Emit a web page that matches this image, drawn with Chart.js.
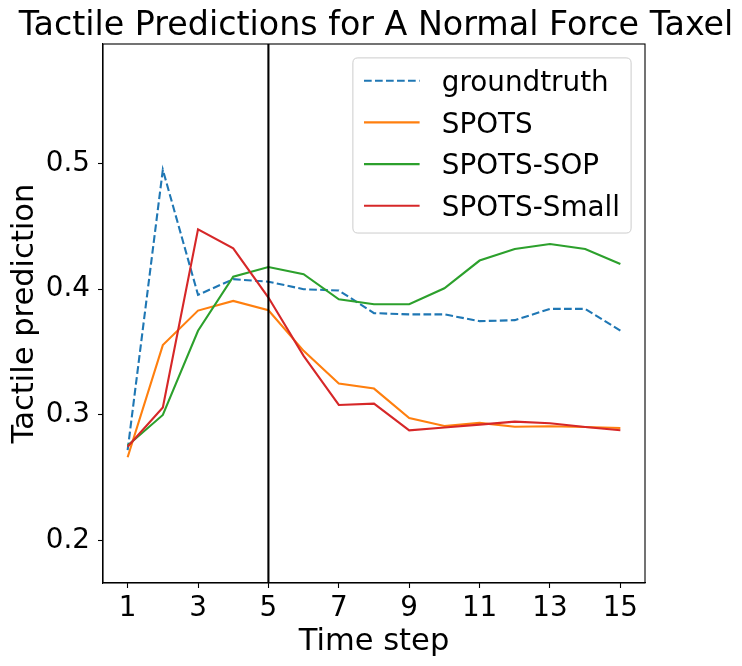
<!DOCTYPE html>
<html><head><meta charset="utf-8">
<script src="https://cdn.jsdelivr.net/npm/chart.js@4.4.0/dist/chart.umd.min.js"></script>
<style>html,body{margin:0;padding:0;background:#fff;} #wrap{width:742px;height:666px;}</style>
</head><body><div id="wrap"><canvas id="c" width="742" height="666"></canvas></div>
<script>
const timeSteps = [1, 2, 3, 4, 5, 6, 7, 8, 9, 10, 11, 12, 13, 14, 15];
const xTickValues = [1, 3, 5, 7, 9, 11, 13, 15];
const yTickValues = [0.2, 0.3, 0.4, 0.5];
const groundtruth = [0.272, 0.495, 0.3955, 0.408, 0.406, 0.400, 0.399, 0.381, 0.380, 0.380, 0.3746, 0.3754, 0.3844, 0.3844, 0.367];
const spots = [0.2664, 0.3556, 0.383, 0.3907, 0.3833, 0.351, 0.325, 0.321, 0.2976, 0.2913, 0.2937, 0.2907, 0.291, 0.2905, 0.2897];
const spotsSop = [0.2757, 0.300, 0.367, 0.410, 0.4177, 0.412, 0.392, 0.388, 0.388, 0.4008, 0.4228, 0.432, 0.436, 0.432, 0.420];
const spotsSmall = [0.2748, 0.306, 0.4476, 0.4325, 0.3934, 0.347, 0.308, 0.309, 0.2878, 0.290, 0.2923, 0.2947, 0.2934, 0.2905, 0.2878];
const seriesNames = ['groundtruth', 'SPOTS', 'SPOTS-SOP', 'SPOTS-Small'];
const boundaryStep = 5;
const titleText = 'Tactile Predictions for A Normal Force Taxel';
const xLabel = 'Time step';
const yLabel = 'Tactile prediction';

const FONT = '"DejaVu Sans", sans-serif';
const FS = 27.8;
const LABEL_FS = 30.56;
const TITLE_FS = 33.3;
const colors = ['#1f77b4', '#ff7f0e', '#2ca02c', '#d62728'];
const seriesValues = [groundtruth, spots, spotsSop, spotsSmall];

const toPoints = vals => timeSteps.map((t, i) => ({x: t, y: vals[i]}));

const datasets = seriesValues.map((vals, i) => ({
  label: seriesNames[i],
  data: toPoints(vals),
  borderColor: colors[i],
  backgroundColor: colors[i],
  borderWidth: 2.1,
  borderDash: i === 0 ? [7.7, 3.3] : [],
  pointRadius: 0,
  tension: 0,
  fill: false,
  order: 4 - i
}));

const decorPlugin = {
  id: 'decor',
  afterDatasetsDraw(chart) {
    const ctx = chart.ctx, a = chart.chartArea;
    const xs = chart.scales.x;
    ctx.save();
    // vertical boundary line
    const vx = xs.getPixelForValue(boundaryStep);
    ctx.strokeStyle = '#000';
    ctx.lineWidth = 2.1;
    ctx.beginPath();
    ctx.moveTo(vx, a.top);
    ctx.lineTo(vx, a.bottom);
    ctx.stroke();
    // frame
    ctx.lineWidth = 1.1;
    ctx.strokeRect(a.left, a.top, a.right - a.left, a.bottom - a.top);

    // legend
    ctx.font = `${FS}px ${FONT}`;
    const ds = chart.data.datasets;
    const maxW = Math.max(...ds.map(d => ctx.measureText(d.label).width));
    const pad = 0.4 * FS, handle = 2 * FS, gap = 0.8 * FS, row = 1.5 * FS;
    const w = pad + handle + gap + maxW + pad;
    const h = 2 * pad + FS + row * (ds.length - 1);
    const right = a.right - 0.5 * FS;
    const top = a.top + 0.5 * FS;
    const left = right - w;
    const r = 5;
    ctx.beginPath();
    ctx.moveTo(left + r, top);
    ctx.lineTo(right - r, top);
    ctx.quadraticCurveTo(right, top, right, top + r);
    ctx.lineTo(right, top + h - r);
    ctx.quadraticCurveTo(right, top + h, right - r, top + h);
    ctx.lineTo(left + r, top + h);
    ctx.quadraticCurveTo(left, top + h, left, top + h - r);
    ctx.lineTo(left, top + r);
    ctx.quadraticCurveTo(left, top, left + r, top);
    ctx.closePath();
    ctx.fillStyle = 'rgba(255,255,255,0.8)';
    ctx.fill();
    ctx.strokeStyle = '#cccccc';
    ctx.lineWidth = 1;
    ctx.stroke();
    ds.forEach((d, i) => {
      const cy = top + pad + 0.42 * FS + i * row;
      ctx.strokeStyle = d.borderColor;
      ctx.lineWidth = 2.1;
      ctx.setLineDash(d.borderDash || []);
      ctx.beginPath();
      ctx.moveTo(left + pad, cy);
      ctx.lineTo(left + pad + handle, cy);
      ctx.stroke();
      ctx.setLineDash([]);
      ctx.fillStyle = '#000';
      ctx.textBaseline = 'alphabetic';
      ctx.textAlign = 'left';
      ctx.fillText(d.label, left + pad + handle + gap, cy + 0.365 * FS);
    });

    // titles
    ctx.fillStyle = '#000';
    ctx.textAlign = 'center';
    ctx.textBaseline = 'alphabetic';
    ctx.font = `${TITLE_FS}px ${FONT}`;
    const cx = (a.left + a.right) / 2;
    ctx.fillText(titleText, cx + 2, 35);
    ctx.font = `${LABEL_FS}px ${FONT}`;
    ctx.fillText(xLabel, cx, 650);
    ctx.save();
    ctx.translate(33, (a.top + a.bottom) / 2);
    ctx.rotate(-Math.PI / 2);
    ctx.fillText(yLabel, 0, 0);
    ctx.restore();
    ctx.restore();
  }
};

new Chart(document.getElementById('c'), {
  type: 'line',
  data: {datasets},
  plugins: [decorPlugin],
  options: {
    responsive: false,
    devicePixelRatio: 1,
    animation: false,
    layout: {padding: {top: 44, right: 97, left: 0, bottom: 0}},
    plugins: {legend: {display: false}, tooltip: {enabled: false}, title: {display: false}},
    scales: {
      x: {
        type: 'linear', min: 0.3, max: 15.7,
        afterBuildTicks: s => { s.ticks = xTickValues.map(v => ({value: v})); },
        afterFit: s => { s.height = 83; },
        ticks: {font: {family: FONT, size: FS}, color: '#000', padding: 4, maxRotation: 0, autoSkip: false, callback: v => String(v)},
        grid: {display: true, drawOnChartArea: false, drawTicks: true, tickLength: 5, tickColor: '#000', tickWidth: 1.1},
        border: {display: true, color: '#000', width: 1.1}
      },
      y: {
        type: 'linear', min: 0.1664, max: 0.595,
        afterBuildTicks: s => { s.ticks = yTickValues.map(v => ({value: v})); },
        afterFit: s => { s.width = 103; },
        ticks: {font: {family: FONT, size: FS}, color: '#000', padding: 8, autoSkip: false, callback: v => v.toFixed(1)},
        grid: {display: true, drawOnChartArea: false, drawTicks: true, tickLength: 5, tickColor: '#000', tickWidth: 1.1},
        border: {display: true, color: '#000', width: 1.1}
      }
    }
  }
});
</script>
</body></html>
